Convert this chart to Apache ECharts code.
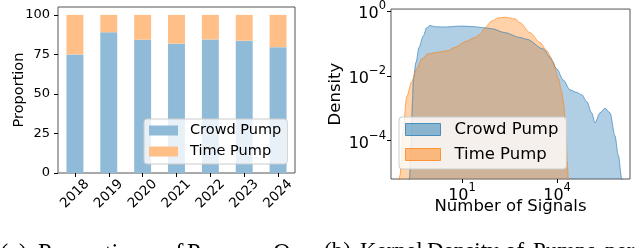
<!DOCTYPE html>
<html><head><meta charset="utf-8">
<script src="https://cdn.jsdelivr.net/npm/echarts@6/dist/echarts.min.js"></script>
<style>html,body{margin:0;padding:0;background:#fff}#c{width:640px;height:248px}</style>
</head><body><div id="c"></div>
<script>
// ---- Left panel: proportion of pumps per year ----
const years = ['2018', '2019', '2020', '2021', '2022', '2023', '2024'];
const crowdPump = [75.0, 89.0, 84.3, 81.8, 84.5, 83.7, 79.6];
const timePump = [25.0, 11.0, 15.7, 18.2, 15.5, 16.3, 20.4];
const proportionTicks = [0, 25, 50, 75, 100];

// ---- Right panel: KDE (values read as log10 exponents) ----
const crowdLogSignals = [-0.70, -0.656, -0.609, -0.562, -0.536, -0.451, -0.356, -0.221, -0.114, -0.009, 0.148, 0.464, 0.991, 1.41, 1.672, 1.937, 2.356, 2.83, 3.04, 3.565, 3.776, 3.987, 4.196, 4.407, 4.618, 4.776, 4.934, 5.091, 5.196, 5.353, 5.511, 5.669, 5.826, 5.931, 6.038, 6.08];
const crowdLogDensity = [-5.40, -5.18, -4.0, -2.79, -2.09, -1.58, -1.12, -0.767, -0.515, -0.445, -0.485, -0.494, -0.464, -0.485, -0.515, -0.545, -0.667, -0.818, -0.87, -1.17, -1.42, -1.78, -2.13, -2.43, -2.51, -2.58, -2.79, -3.14, -3.45, -3.14, -3.0, -3.14, -3.85, -4.45, -5.16, -5.40];
const timeLogSignals = [-1.0, -0.956, -0.861, -0.744, -0.587, -0.429, -0.271, -0.063, 0.252, 0.568, 0.779, 1.095, 1.41, 1.568, 1.726, 1.937, 2.145, 2.356, 2.672, 2.83, 3.145, 3.461, 3.672, 3.88, 4.038, 4.145, 4.196, 4.281, 4.322, 4.353, 4.37];
const timeLogDensity = [-5.40, -5.06, -3.70, -2.64, -2.18, -1.78, -1.48, -1.32, -1.27, -1.22, -1.12, -0.948, -0.818, -0.718, -0.515, -0.312, -0.212, -0.191, -0.242, -0.364, -0.667, -0.97, -1.22, -1.58, -2.08, -2.48, -2.79, -3.64, -4.66, -5.15, -5.40];
const densityTickExps = [-4, -2, 0];
const signalTickExps = [1, 4];

const seriesNames = ['Crowd Pump', 'Time Pump'];
const captionA = [['(a)', 0], ['Proportion', 38], ['of', 163], ['Pumps', 187], ['Over', 273]];
const captionB = [['(b)', 324], ['Kernel', 360], ['Density', 427], ['of', 505], ['Pumps', 533], ['per', 605]];

const FONT = 'DejaVu Sans';
const chart = echarts.init(document.getElementById('c'), null, { renderer: 'canvas' });

const supLabel = v => {
  const e = Math.round(v);
  return '{b|10}{s|' + (e < 0 ? '\u2212' + (-e) : String(e)) + '}';
};
const rich = {
  b: { fontFamily: FONT, fontSize: 16, lineHeight: 22, verticalAlign: 'bottom', color: '#000' },
  s: { fontFamily: FONT, fontSize: 11.5, lineHeight: 12, verticalAlign: 'top', color: '#000' }
};

const captionGraphics = [];
captionA.concat(captionB).forEach(([t, x], i) => {
  captionGraphics.push({
    type: 'text', x: x, y: i < captionA.length ? 242.5 : 240.5, silent: true,
    style: { text: t, fontFamily: 'Liberation Serif', fontSize: i < captionA.length ? 24.5 : 23, fill: '#000', verticalAlign: 'top' }
  });
});

const option = {
  animation: false,
  backgroundColor: '#fff',
  grid: [
    { left: 58, top: 7, width: 237, height: 166, show: true, borderColor: '#555', borderWidth: 1, backgroundColor: 'transparent' },
    { left: 391, top: 6, width: 239, height: 173, show: true, borderColor: '#555', borderWidth: 1, backgroundColor: 'transparent' }
  ],
  xAxis: [
    {
      type: 'category', gridIndex: 0, data: years,
      axisLine: { show: false, onZero: false },
      axisTick: { show: true, alignWithLabel: true, length: 4, lineStyle: { color: '#000' } },
      axisLabel: { rotate: 45, align: 'center', verticalAlign: 'middle', margin: 21, fontFamily: FONT, fontSize: 13.5, color: '#000' },
      splitLine: { show: false }
    },
    {
      type: 'value', gridIndex: 1, min: -1.24, max: 6.3,
      axisLine: { show: false, onZero: false },
      axisTick: { show: true, length: 4, customValues: signalTickExps, lineStyle: { color: '#000' } },
      axisLabel: { customValues: signalTickExps, formatter: supLabel, rich: rich, margin: 3 },
      splitLine: { show: false },
      name: 'Number of Signals', nameLocation: 'middle', nameGap: 18, nameMoveOverlap: false,
      nameTextStyle: { fontFamily: FONT, fontSize: 16.5, color: '#000', lineHeight: 20 }
    }
  ],
  yAxis: [
    {
      type: 'value', gridIndex: 0, min: 0, max: 105,
      axisLine: { show: false, onZero: false },
      axisTick: { show: true, length: 4, customValues: proportionTicks, lineStyle: { color: '#000' } },
      axisLabel: { customValues: proportionTicks, margin: 8, fontFamily: FONT, fontSize: 13, color: '#000' },
      splitLine: { show: false },
      name: 'Proportion', nameLocation: 'middle', nameGap: 30, nameMoveOverlap: false,
      nameTextStyle: { fontFamily: FONT, fontSize: 14.5, color: '#000', lineHeight: 17 }
    },
    {
      type: 'value', gridIndex: 1, min: -5.18, max: 0.06,
      axisLine: { show: false, onZero: false },
      axisTick: { show: true, length: 4, customValues: densityTickExps, lineStyle: { color: '#000' } },
      axisLabel: { customValues: densityTickExps, formatter: supLabel, rich: rich, margin: 5 },
      splitLine: { show: false },
      name: 'Density', nameLocation: 'middle', nameGap: 45, nameMoveOverlap: false,
      nameTextStyle: { fontFamily: FONT, fontSize: 16.5, color: '#000', lineHeight: 20 }
    }
  ],
  legend: [
    {
      left: 144, top: 119, orient: 'vertical', icon: 'rect', selectedMode: false,
      itemWidth: 29, itemHeight: 10, itemGap: 4,
      padding: [3, 6, 4, 5],
      backgroundColor: 'rgba(255,255,255,0.8)', borderColor: '#ccc', borderWidth: 1, borderRadius: 3,
      textStyle: { fontFamily: FONT, fontSize: 14.5, color: '#000', lineHeight: 17, padding: [0, 0, 0, 7] },
      data: [
        { name: seriesNames[0], itemStyle: { color: '#8fbbd9', borderWidth: 0 } },
        { name: seriesNames[1], itemStyle: { color: '#ffbf86', borderWidth: 0 } }
      ]
    },
    {
      left: 399, top: 117, orient: 'vertical', icon: 'rect', selectedMode: false,
      itemWidth: 35, itemHeight: 12, itemGap: 5,
      padding: [2.5, 8, 4.5, 6],
      backgroundColor: 'rgba(255,255,255,0.8)', borderColor: '#ccc', borderWidth: 1, borderRadius: 3,
      textStyle: { fontFamily: FONT, fontSize: 16.5, color: '#000', lineHeight: 20, padding: [0, 0, 0, 9] },
      data: [
        { name: seriesNames[0], itemStyle: { color: 'rgba(31,119,180,0.5)', borderColor: 'rgba(31,119,180,0.75)', borderWidth: 1 } },
        { name: seriesNames[1], itemStyle: { color: 'rgba(255,127,14,0.5)', borderColor: 'rgba(255,127,14,0.75)', borderWidth: 1 } }
      ]
    }
  ],
  series: [
    {
      type: 'bar', name: seriesNames[0], xAxisIndex: 0, yAxisIndex: 0, stack: 'prop',
      data: crowdPump, barWidth: '50%', itemStyle: { color: '#8fbbd9' }
    },
    {
      type: 'bar', name: seriesNames[1], xAxisIndex: 0, yAxisIndex: 0, stack: 'prop',
      data: timePump, barWidth: '50%', itemStyle: { color: '#ffbf86' }
    },
    {
      type: 'line', name: seriesNames[0], xAxisIndex: 1, yAxisIndex: 1,
      data: crowdLogSignals.map((x, i) => [x, crowdLogDensity[i]]),
      showSymbol: false, smooth: 0.3, smoothMonotone: 'x', clip: true,
      itemStyle: { color: 'rgba(31,119,180,0.5)' },
      lineStyle: { color: 'rgba(31,119,180,0.6)', width: 1 },
      areaStyle: { color: 'rgba(31,119,180,0.5)', origin: 'start' }
    },
    {
      type: 'line', name: seriesNames[1], xAxisIndex: 1, yAxisIndex: 1,
      data: timeLogSignals.map((x, i) => [x, timeLogDensity[i]]),
      showSymbol: false, smooth: 0.3, smoothMonotone: 'x', clip: true,
      itemStyle: { color: 'rgba(255,127,14,0.5)' },
      lineStyle: { color: 'rgba(255,127,14,0.6)', width: 1 },
      areaStyle: { color: 'rgba(255,127,14,0.5)', origin: 'start' }
    }
  ],
  graphic: captionGraphics
};
chart.setOption(option);
</script></body></html>
